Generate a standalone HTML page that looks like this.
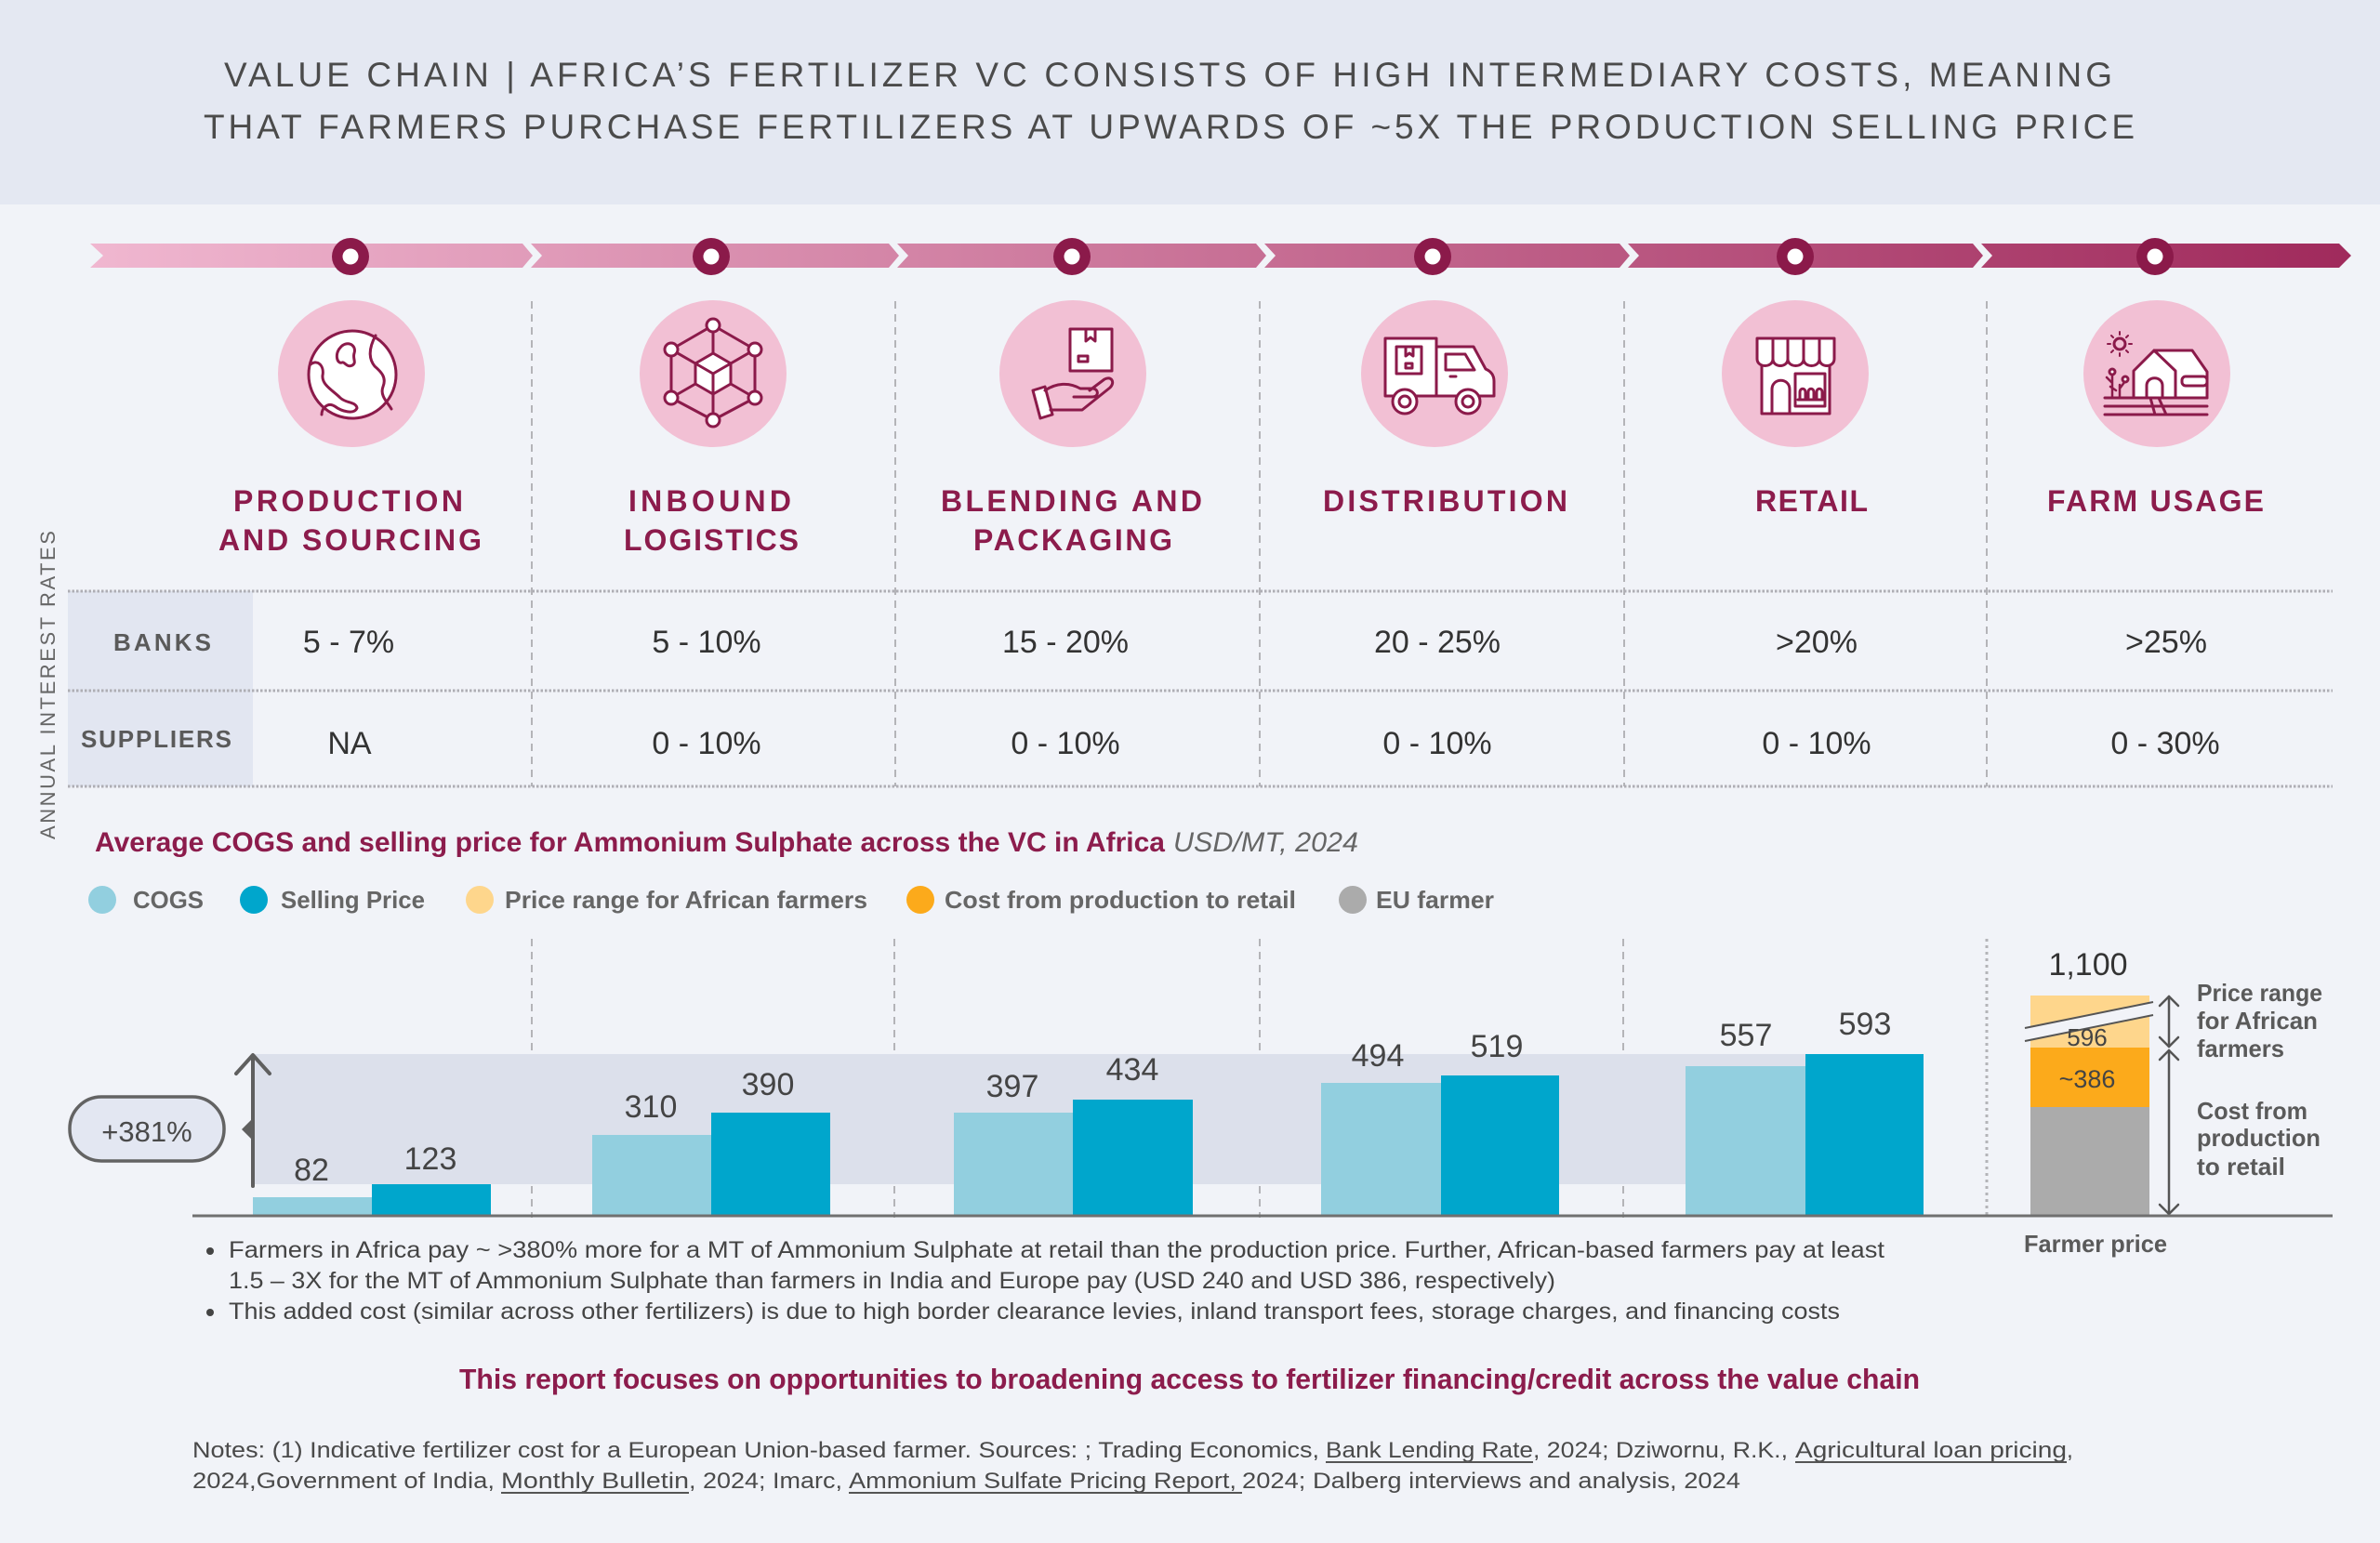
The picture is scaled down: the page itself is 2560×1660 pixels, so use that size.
<!DOCTYPE html>
<html><head><meta charset="utf-8"><style>
html,body{margin:0;padding:0;background:#f1f3f8;}
svg{display:block;}
text{font-family:"Liberation Sans",Arial,sans-serif;}
</style></head><body>
<svg width="2560" height="1660" viewBox="0 0 2560 1660" xmlns="http://www.w3.org/2000/svg">
<defs>
<linearGradient id="rib" gradientUnits="userSpaceOnUse" x1="97" y1="0" x2="2529" y2="0">
<stop offset="0" stop-color="#f0b7d0"/><stop offset="1" stop-color="#a02a5c"/>
</linearGradient>
</defs>
<rect x="0" y="0" width="2560" height="1660" fill="#f1f3f8"/>
<rect x="0" y="0" width="2560" height="220" fill="#e4e8f2"/>
<text x="241" y="93" font-size="37" fill="#4b4b4b" textLength="2031" lengthAdjust="spacing">VALUE CHAIN | AFRICA’S FERTILIZER VC CONSISTS OF HIGH INTERMEDIARY COSTS, MEANING</text>
<text x="219" y="149" font-size="37" fill="#4b4b4b" textLength="2077" lengthAdjust="spacing">THAT FARMERS PURCHASE FERTILIZERS AT UPWARDS OF ~5X THE PRODUCTION SELLING PRICE</text>

<!-- ribbon -->
<g fill="url(#rib)">
<polygon points="97,262 562,262 573,275 562,288 97,288 111,275"/>
<polygon points="571,262 956,262 967,275 956,288 571,288 583,275"/>
<polygon points="965,262 1351,262 1362,275 1351,288 965,288 977,275"/>
<polygon points="1360,262 1742,262 1753,275 1742,288 1360,288 1372,275"/>
<polygon points="1751,262 2122,262 2133,275 2122,288 1751,288 1763,275"/>
<polygon points="2131,262 2516,262 2529,275 2516,288 2131,288 2143,275"/>
</g>
<g fill="#8b1a4a">
<circle cx="377" cy="276" r="20"/><circle cx="765" cy="276" r="20"/><circle cx="1153" cy="276" r="20"/>
<circle cx="1541" cy="276" r="20"/><circle cx="1931" cy="276" r="20"/><circle cx="2318" cy="276" r="20"/>
</g>
<g fill="#ffffff">
<circle cx="377" cy="276" r="8.5"/><circle cx="765" cy="276" r="8.5"/><circle cx="1153" cy="276" r="8.5"/>
<circle cx="1541" cy="276" r="8.5"/><circle cx="1931" cy="276" r="8.5"/><circle cx="2318" cy="276" r="8.5"/>
</g>

<!-- separators -->
<g stroke="#b4b4b8" stroke-width="2" stroke-dasharray="8 6">
<line x1="572" y1="324" x2="572" y2="846"/><line x1="963" y1="324" x2="963" y2="846"/>
<line x1="1355" y1="324" x2="1355" y2="846"/><line x1="1747" y1="324" x2="1747" y2="846"/>
<line x1="2137" y1="324" x2="2137" y2="846"/>
<line x1="572" y1="1010" x2="572" y2="1310"/><line x1="962" y1="1010" x2="962" y2="1310"/>
<line x1="1355" y1="1010" x2="1355" y2="1310"/><line x1="1746" y1="1010" x2="1746" y2="1310"/>
</g>
<line x1="2137" y1="1010" x2="2137" y2="1310" stroke="#b4b4b8" stroke-width="3" stroke-dasharray="3 4"/>

<!-- icon circles -->
<g fill="#f2c0d4">
<circle cx="378" cy="402" r="79"/><circle cx="767" cy="402" r="79"/><circle cx="1154" cy="402" r="79"/>
<circle cx="1543" cy="402" r="79"/><circle cx="1931" cy="402" r="79"/><circle cx="2320" cy="402" r="79"/>
</g>

<g fill="#ffffff" stroke="#8b1a4a" stroke-width="3" stroke-linejoin="round" stroke-linecap="round">
<!-- globe -->
<circle cx="379" cy="403" r="47"/>
<path d="M366,374 C372,366 384,370 381,380 C379,386 384,390 379,393 C373,396 371,389 368,390 C362,392 360,380 366,374 Z" />
<path d="M334,392 C342,386 349,394 347,404 C346,414 358,420 366,428 C372,434 383,432 384,439 C381,446 368,443 360,437 C352,432 346,440 346,446" fill="none"/>
<path d="M404,361 C398,372 395,384 403,394 C410,400 416,406 412,416 C408,426 418,434 421,440" fill="none"/>
<!-- network -->
<g>
<path d="M767,350 L722,376 L722,428 L767,452 L812,428 L812,376 Z" fill="none"/>
<path d="M767,350 L767,380 M722,376 L748,391 M812,376 L786,391 M722,428 L748,413 M812,428 L786,413 M767,452 L767,424" fill="none"/>
<path d="M767,380 L786,391 L786,413 L767,424 L748,413 L748,391 Z"/>
<path d="M748,391 L767,402 L786,391 M767,402 L767,424" fill="none"/>
<circle cx="767" cy="350" r="7"/><circle cx="722" cy="376" r="7"/><circle cx="812" cy="376" r="7"/>
<circle cx="722" cy="428" r="7"/><circle cx="812" cy="428" r="7"/><circle cx="767" cy="452" r="7"/>
</g>
<!-- hand box -->
<rect x="1151" y="354" width="45" height="45"/>
<path d="M1168,354 L1168,367 L1173,363 L1178,367 L1178,354" fill="none"/>
<rect x="1160" y="383" width="10" height="6"/>
<path d="M1111,420 L1124,416 L1132,446 L1119,450 Z"/>
<path d="M1124,420 C1136,412 1150,411 1162,418 L1176,418 C1182,419 1182,427 1175,427 L1155,427 M1130,441 L1164,441 L1194,417 C1200,411 1195,404 1188,408 L1172,420" fill="none"/>
<!-- truck -->
<rect x="1490" y="364" width="55" height="62"/>
<path d="M1545,373 L1585,373 L1598,397 C1605,400 1607,405 1607,410 L1607,426 L1545,426 Z"/>
<path d="M1555,381 L1576,381 L1586,398 L1555,398 Z"/>
<rect x="1502" y="373" width="27" height="29"/>
<path d="M1512,373 L1512,383 L1516,380 L1520,383 L1520,373" fill="none"/>
<rect x="1512" y="391" width="7" height="5"/>
<line x1="1560" y1="405" x2="1566" y2="405"/>
<circle cx="1511" cy="432" r="13"/><circle cx="1511" cy="432" r="6"/>
<circle cx="1579" cy="432" r="13"/><circle cx="1579" cy="432" r="6"/>
<!-- shop -->
<rect x="1895" y="390" width="73" height="55"/>
<path d="M1890,364 L1973,364 L1973,386 C1973,396 1957,396 1957,386 C1957,396 1940,396 1940,386 C1940,396 1923,396 1923,386 C1923,396 1907,396 1907,386 C1907,396 1890,396 1890,386 Z"/>
<path d="M1907,366 L1907,386 M1923,366 L1923,386 M1940,366 L1940,386 M1957,366 L1957,386" fill="none"/>
<path d="M1906,445 L1906,419 C1906,406 1925,406 1925,419 L1925,445" fill="none"/>
<rect x="1931" y="402" width="32" height="35"/>
<path d="M1936,430 L1936,422 C1936,417 1942,417 1942,422 L1942,430 M1945,430 L1945,422 C1945,417 1951,417 1951,422 L1951,430 M1954,430 L1954,422 C1954,417 1960,417 1960,422 L1960,430 M1934,430 L1961,430" fill="none"/>
<!-- farm -->
<circle cx="2280" cy="370" r="6" fill="none"/>
<path d="M2280,357 L2280,360 M2280,380 L2280,383 M2267,370 L2270,370 M2290,370 L2293,370 M2271,361 L2273,363 M2287,377 L2289,379 M2289,361 L2287,363 M2271,379 L2273,377" fill="none" stroke-width="2"/>
<path d="M2317,377 L2358,377 L2374,400 L2374,428 L2340,428 L2340,400 Z"/>
<path d="M2295,428 L2295,399 L2317,377 L2340,399 L2340,428 Z"/>
<rect x="2347" y="405" width="27" height="10" rx="4"/>
<path d="M2309,428 L2309,415 C2309,404 2326,404 2326,415 L2326,428" fill="none"/>
<path d="M2264,428 L2374,428 M2264,437 L2374,437 M2264,446 L2374,446" fill="none"/>
<path d="M2313,428 L2318,446 M2322,428 L2330,446" fill="none"/>
<path d="M2272,428 L2272,402 M2272,412 L2266,406 M2280,428 L2280,414 M2280,418 L2286,410 M2276,420 L2270,416" fill="none" stroke-width="2.5"/>
<circle cx="2272" cy="400" r="3"/><circle cx="2286" cy="408" r="3"/>
</g>

<!-- stage labels -->
<g font-size="32" font-weight="bold" fill="#8c1c4c">
<text x="251" y="550" textLength="247" lengthAdjust="spacing">PRODUCTION</text>
<text x="235" y="592" textLength="283" lengthAdjust="spacing">AND SOURCING</text>
<text x="676" y="550" textLength="175" lengthAdjust="spacing">INBOUND</text>
<text x="671" y="592" textLength="188" lengthAdjust="spacing">LOGISTICS</text>
<text x="1012" y="550" textLength="281" lengthAdjust="spacing">BLENDING AND</text>
<text x="1047" y="592" textLength="214" lengthAdjust="spacing">PACKAGING</text>
<text x="1423" y="550" textLength="263" lengthAdjust="spacing">DISTRIBUTION</text>
<text x="1888" y="550" textLength="121" lengthAdjust="spacing">RETAIL</text>
<text x="2202" y="550" textLength="233" lengthAdjust="spacing">FARM USAGE</text>
</g>

<!-- table -->
<rect x="73" y="636" width="199" height="210" fill="#e2e6f1"/>
<g stroke="#aeaeb4" stroke-width="3" stroke-dasharray="2.5 2">
<line x1="73" y1="636" x2="2509" y2="636"/>
<line x1="73" y1="743" x2="2509" y2="743"/>
<line x1="73" y1="846" x2="2509" y2="846"/>
</g>
<text transform="translate(59,903) rotate(-90)" font-size="22" fill="#666" textLength="332" lengthAdjust="spacing">ANNUAL INTEREST RATES</text>
<g font-size="26" font-weight="bold" fill="#5a5a5a">
<text x="122" y="700" textLength="105" lengthAdjust="spacing">BANKS</text>
<text x="87" y="804" textLength="162" lengthAdjust="spacing">SUPPLIERS</text>
</g>
<g font-size="34" fill="#333" text-anchor="middle">
<text x="375" y="702">5 - 7%</text>
<text x="760" y="702">5 - 10%</text>
<text x="1146" y="702">15 - 20%</text>
<text x="1546" y="702">20 - 25%</text>
<text x="1954" y="702">&gt;20%</text>
<text x="2330" y="702">&gt;25%</text>
<text x="376" y="811">NA</text>
<text x="760" y="811">0 - 10%</text>
<text x="1146" y="811">0 - 10%</text>
<text x="1546" y="811">0 - 10%</text>
<text x="1954" y="811">0 - 10%</text>
<text x="2329" y="811">0 - 30%</text>
</g>

<!-- chart title & legend -->
<text x="102" y="916" font-size="30" font-weight="bold" fill="#8c1c4c" textLength="1151" lengthAdjust="spacingAndGlyphs">Average COGS and selling price for Ammonium Sulphate across the VC in Africa</text>
<text x="1262" y="916" font-size="30" font-style="italic" fill="#666" textLength="199" lengthAdjust="spacingAndGlyphs">USD/MT, 2024</text>
<circle cx="110" cy="968" r="15" fill="#92cfdf"/>
<circle cx="273" cy="968" r="15" fill="#00a6cc"/>
<circle cx="516" cy="968" r="15" fill="#fed68c"/>
<circle cx="990" cy="968" r="15" fill="#fcaa1b"/>
<circle cx="1455" cy="968" r="15" fill="#ababab"/>
<g font-size="26" font-weight="bold" fill="#666">
<text x="143" y="977" textLength="76" lengthAdjust="spacingAndGlyphs">COGS</text>
<text x="302" y="977" textLength="155" lengthAdjust="spacingAndGlyphs">Selling Price</text>
<text x="543" y="977" textLength="390" lengthAdjust="spacingAndGlyphs">Price range for African farmers</text>
<text x="1016" y="977" textLength="378" lengthAdjust="spacingAndGlyphs">Cost from production to retail</text>
<text x="1480" y="977" textLength="127" lengthAdjust="spacingAndGlyphs">EU farmer</text>
</g>

<!-- band -->
<rect x="272" y="1134" width="1797" height="140" fill="#dce0eb"/>

<!-- bars -->
<g fill="#92cfdf">
<rect x="272" y="1288" width="128" height="19"/>
<rect x="637" y="1221" width="128" height="86"/>
<rect x="1026" y="1197" width="128" height="110"/>
<rect x="1421" y="1165" width="129" height="142"/>
<rect x="1813" y="1147" width="129" height="160"/>
</g>
<g fill="#00a6cc">
<rect x="400" y="1274" width="128" height="33"/>
<rect x="765" y="1197" width="128" height="110"/>
<rect x="1154" y="1183" width="129" height="124"/>
<rect x="1550" y="1157" width="127" height="150"/>
<rect x="1942" y="1134" width="127" height="173"/>
</g>
<g font-size="34" fill="#444" text-anchor="middle">
<text x="335" y="1270">82</text>
<text x="463" y="1258">123</text>
<text x="700" y="1202">310</text>
<text x="826" y="1178">390</text>
<text x="1089" y="1180">397</text>
<text x="1218" y="1162">434</text>
<text x="1482" y="1147">494</text>
<text x="1610" y="1137">519</text>
<text x="1878" y="1125">557</text>
<text x="2006" y="1113">593</text>
</g>

<!-- arrow & pill -->
<g stroke="#5f5f5f" stroke-width="4" fill="none" stroke-linecap="round" stroke-linejoin="round">
<line x1="272" y1="1276" x2="272" y2="1137"/>
<polyline points="254,1155 272,1135 290,1155"/>
</g>
<polygon points="272,1203 260,1215 272,1227" fill="#5f5f5f"/>
<rect x="75" y="1180" width="166" height="69" rx="34" ry="34" fill="#e3e7f2" stroke="#636363" stroke-width="3.5"/>
<text x="158" y="1228" font-size="31" fill="#4a4a4a" text-anchor="middle">+381%</text>

<!-- farmer column -->
<rect x="2184" y="1191" width="128" height="117" fill="#ababab"/>
<rect x="2184" y="1127" width="128" height="64" fill="#fcaa1b"/>
<rect x="2184" y="1071" width="128" height="56" fill="#fed68c"/>
<polygon points="2176,1106 2318,1078 2318,1092 2176,1120" fill="#f1f3f8"/>
<g stroke="#555" stroke-width="2">
<line x1="2178" y1="1106" x2="2316" y2="1078"/>
<line x1="2178" y1="1120" x2="2316" y2="1092"/>
</g>
<text x="2246" y="1049" font-size="34" fill="#333" text-anchor="middle">1,100</text>
<text x="2245" y="1125" font-size="26" fill="#444" text-anchor="middle">596</text>
<text x="2245" y="1170" font-size="27" fill="#444" text-anchor="middle">~386</text>
<g stroke="#555" stroke-width="2.5" fill="none" stroke-linecap="round" stroke-linejoin="round">
<line x1="2333" y1="1072" x2="2333" y2="1126"/>
<polyline points="2323,1082 2333,1072 2343,1082"/>
<polyline points="2323,1116 2333,1126 2343,1116"/>
<line x1="2333" y1="1130" x2="2333" y2="1306"/>
<polyline points="2323,1140 2333,1130 2343,1140"/>
<polyline points="2323,1296 2333,1306 2343,1296"/>
</g>
<g font-size="26" font-weight="bold" fill="#5a5a5a">
<text x="2363" y="1077" textLength="135" lengthAdjust="spacingAndGlyphs">Price range</text>
<text x="2363" y="1107" textLength="130" lengthAdjust="spacingAndGlyphs">for African</text>
<text x="2363" y="1137" textLength="94" lengthAdjust="spacingAndGlyphs">farmers</text>
<text x="2363" y="1204" textLength="119" lengthAdjust="spacingAndGlyphs">Cost from</text>
<text x="2363" y="1233" textLength="133" lengthAdjust="spacingAndGlyphs">production</text>
<text x="2363" y="1264" textLength="95" lengthAdjust="spacingAndGlyphs">to retail</text>
<text x="2177" y="1347" textLength="154" lengthAdjust="spacingAndGlyphs">Farmer price</text>
</g>

<!-- baseline -->
<line x1="207" y1="1308" x2="2509" y2="1308" stroke="#707070" stroke-width="3"/>

<!-- bullets -->
<circle cx="226" cy="1346" r="4" fill="#444"/>
<circle cx="226" cy="1412" r="4" fill="#444"/>
<g font-size="25" fill="#444">
<text x="246" y="1353" textLength="1781" lengthAdjust="spacingAndGlyphs">Farmers in Africa pay ~ &gt;380% more for a MT of Ammonium Sulphate at retail than the production price. Further, African-based farmers pay at least</text>
<text x="246" y="1386" textLength="1427" lengthAdjust="spacingAndGlyphs">1.5 – 3X for the MT of Ammonium Sulphate than farmers in India and Europe pay (USD 240 and USD 386, respectively)</text>
<text x="246" y="1419" textLength="1733" lengthAdjust="spacingAndGlyphs">This added cost (similar across other fertilizers) is due to high border clearance levies, inland transport fees, storage charges, and financing costs</text>
</g>
<text x="494" y="1494" font-size="31" font-weight="bold" fill="#8c1c4c" textLength="1571" lengthAdjust="spacingAndGlyphs">This report focuses on opportunities to broadening access to fertilizer financing/credit across the value chain</text>

<!-- notes -->
<g font-size="24.5" fill="#4a4a4a">
<text x="207" y="1568" textLength="1212" lengthAdjust="spacingAndGlyphs">Notes: (1) Indicative fertilizer cost for a European Union-based farmer. Sources: ; Trading Economics,</text>
<text x="1426" y="1568" textLength="223" lengthAdjust="spacingAndGlyphs">Bank Lending Rate</text>
<text x="1649" y="1568" textLength="274" lengthAdjust="spacingAndGlyphs">, 2024; Dziwornu, R.K.,</text>
<text x="1931" y="1568" textLength="292" lengthAdjust="spacingAndGlyphs">Agricultural loan pricing</text>
<text x="2223" y="1568">,</text>
<text x="207" y="1601" textLength="325" lengthAdjust="spacingAndGlyphs">2024,Government of India,</text>
<text x="539" y="1601" textLength="202" lengthAdjust="spacingAndGlyphs">Monthly Bulletin</text>
<text x="741" y="1601" textLength="165" lengthAdjust="spacingAndGlyphs">, 2024; Imarc,</text>
<text x="913" y="1601" textLength="417" lengthAdjust="spacingAndGlyphs">Ammonium Sulfate Pricing Report,</text>
<text x="1336" y="1601" textLength="536" lengthAdjust="spacingAndGlyphs">2024; Dalberg interviews and analysis, 2024</text>
</g>
<g stroke="#555" stroke-width="2">
<line x1="1426" y1="1573" x2="1649" y2="1573"/>
<line x1="1931" y1="1573" x2="2223" y2="1573"/>
<line x1="539" y1="1606" x2="741" y2="1606"/>
<line x1="913" y1="1606" x2="1336" y2="1606"/>
</g>
</svg>
</body></html>
